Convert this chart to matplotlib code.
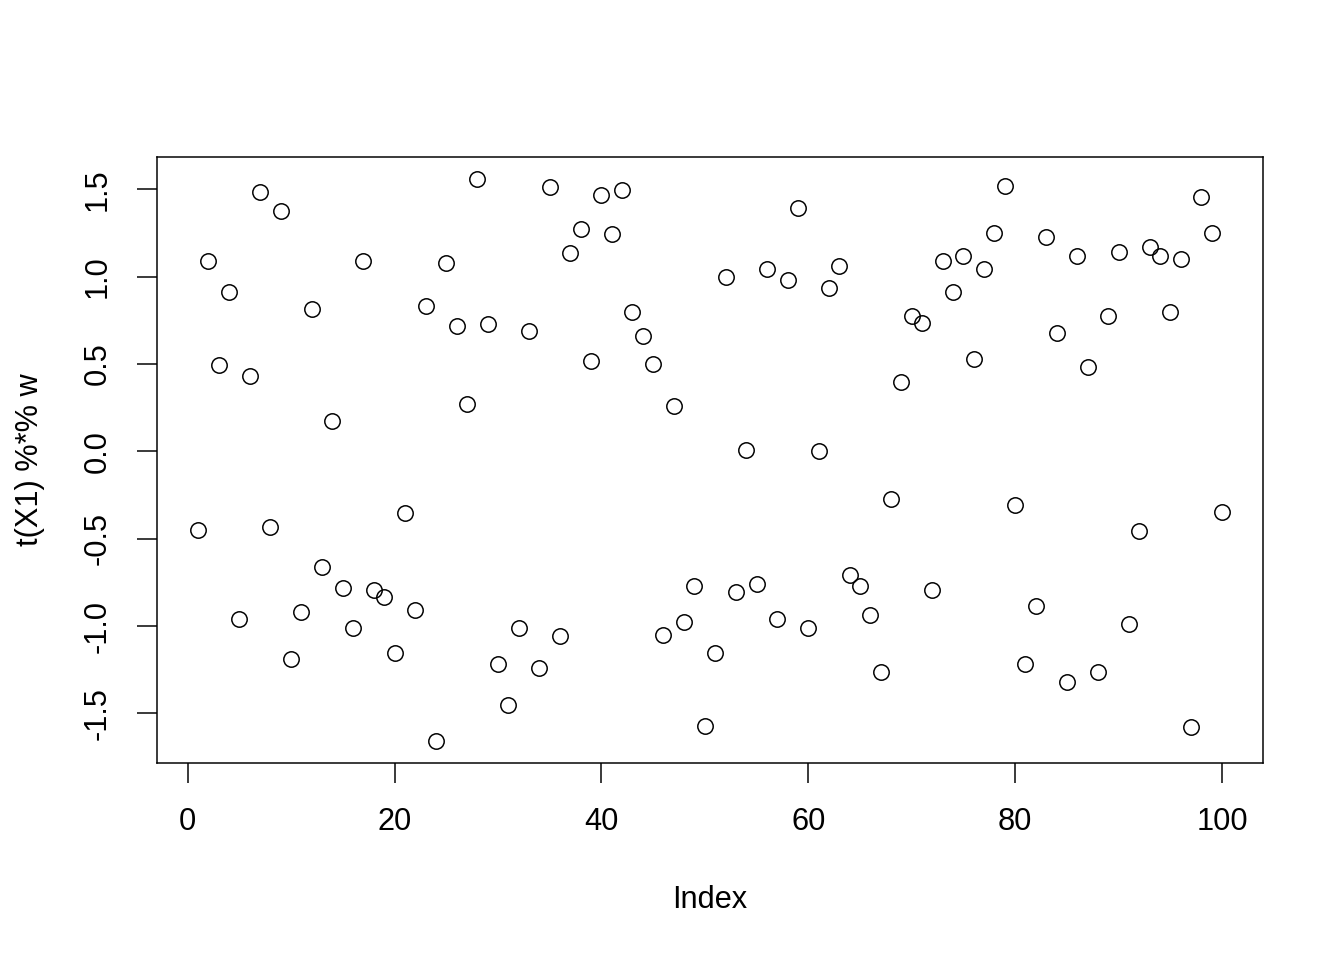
import matplotlib
matplotlib.use("Agg")
import matplotlib.pyplot as plt
import numpy as np

index = list(range(1, 101))
values = [
    -0.447, 1.088, 0.492, 0.910, -0.962, 0.429, 1.483, -0.435, 1.374, -1.190,
    -0.920, 0.813, -0.664, 0.172, -0.779, -1.013, 1.088, -0.796, -0.836, -1.156,
    -0.355, -0.905, 0.830, -1.655, 1.076, 0.716, 0.269, 1.557, 0.727, -1.219,
    -1.454, -1.013, 0.687, -1.242, 1.511, -1.059, 1.134, 1.271, 0.515, 1.466,
    1.242, 1.494, 0.801, 0.658, 0.498, -1.048, 0.258, -0.979, -0.773, -1.569,
    -1.156, 0.996, -0.802, 0.011, -0.756, 1.042, -0.962, 0.979, 1.391, -1.008,
    0.000, 0.933, 1.059, -0.710, -0.773, -0.939, -1.265, -0.275, 0.400, 0.773,
    0.733, -0.796, 1.088, 0.910, 1.116, 0.527, 1.042, 1.248, 1.517, -0.309,
    -1.214, -0.887, 1.225, 0.676, -1.322, 1.116, 0.481, -1.265, 0.773, 1.139,
    -0.985, -0.458, 1.168, 1.116, 0.796, 1.099, -1.580, 1.454, 1.248, -0.349,
]
xticks = [0, 20, 40, 60, 80, 100]
yticks = [-1.5, -1.0, -0.5, 0.0, 0.5, 1.0, 1.5]
ytick_labels = ["-1.5", "-1.0", "-0.5", "0.0", "0.5", "1.0", "1.5"]

plt.rcParams['font.family'] = ['Liberation Sans', 'DejaVu Sans']
FS = 15.4
fig = plt.figure(figsize=(1344/144, 960/144), dpi=144)
ax = fig.add_axes([157/1344, 1-763/960, (1263-157)/1344, (763-157)/960])

ax.plot(index, values, linestyle='none', marker='o', markersize=7.7,
        markerfacecolor='none', markeredgecolor='black', markeredgewidth=0.75)

def ext(lo, hi):
    r = hi - lo
    return lo - 0.04*r, hi + 0.04*r

ax.set_xlim(*ext(min(index), max(index)))
ax.set_ylim(*ext(min(values), max(values)))
ax.set_xticks(xticks)
ax.set_xticklabels([str(t) for t in xticks])
ax.set_yticks(yticks)
ax.set_yticklabels(ytick_labels, rotation=90, va='center')
ax.tick_params(direction='out', length=10, width=0.75, labelsize=FS, pad=12)
for s in ax.spines.values():
    s.set_linewidth(0.75)
ax.set_xlabel("Index", fontsize=FS)
ax.set_ylabel("t(X1) %*% w", fontsize=FS)
ax.xaxis.label.set_va('center')
ax.yaxis.label.set_va('center')
ax.xaxis.set_label_coords(0.5, (763-900)/606)
ax.yaxis.set_label_coords((30-157)/1106, 0.5)

fig.savefig("out.png", dpi=144)
